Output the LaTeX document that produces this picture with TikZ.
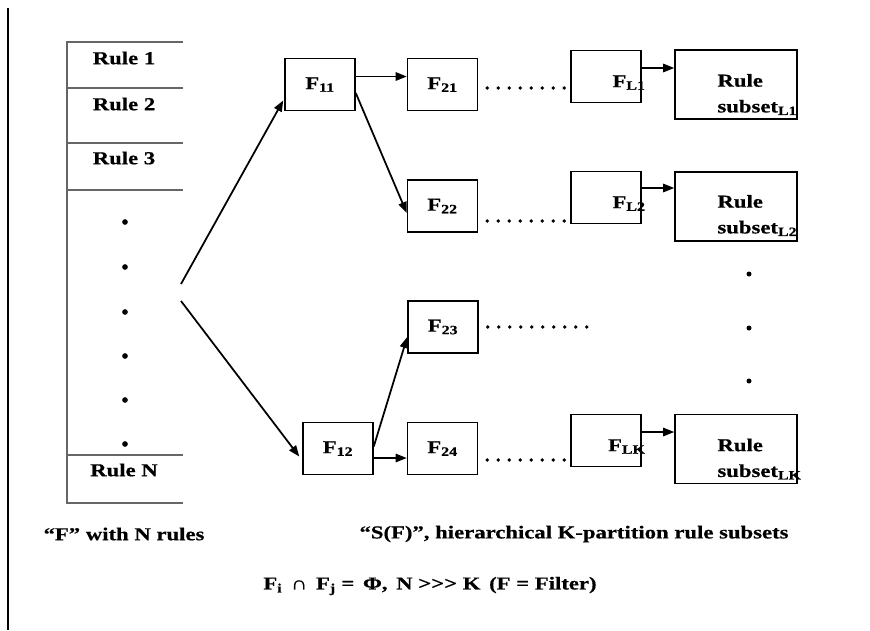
\documentclass[tikz,border=0pt]{standalone}
\usepackage{fontspec}
\newfontfamily\figfont{Liberation Serif}[FakeStretch=1.25, BoldFeatures={FakeBold=0.6}]
\usetikzlibrary{positioning, arrows.meta, calc}

\begin{document}
\begin{tikzpicture}[
    x=0.03cm, y=-0.03cm,
    every node/.style={font=\figfont\bfseries\fontsize{15.5}{22}\selectfont},
    filt/.style={rectangle, draw, line width=1.3pt, inner sep=0pt,
                 minimum width=2.1cm, minimum height=1.57cm},
    rsbox/.style={rectangle, draw, line width=1.3pt, inner sep=0pt,
                  minimum width=3.66cm, minimum height=2.07cm},
    lbl/.style={inner sep=0pt, align=left},
    arrow/.style={-{Triangle[length=0.33cm, width=0.25cm]}, line width=1.5pt},
    dotline/.style={line width=3.2pt, line cap=round, dash pattern=on 0pt off 0.33cm},
    listline/.style={gray!80!black, line width=1.3pt},
  ]
  \useasboundingbox (0,0) rectangle (870,630);

  % left bar
  \draw[line width=1.8pt] (8,8) -- (8,630);

  % rule list F
  \draw[listline] (183,42) -- (67,42) -- (67,503) -- (183,503);
  \foreach \y in {88,143,190,455}
    \draw[listline] (67,\y) -- (183,\y);
  \node[lbl] (r1) at (124,58) {Rule 1};
  \node[lbl] (r2) at (124,104) {Rule 2};
  \node[lbl] (r3) at (124,158) {Rule 3};
  \node[lbl] (rn) at (124,470) {Rule N};
  \foreach \y in {222,267,312,356,400,444}
    \fill (125,\y) circle[radius=0.085cm];

  % filters
  \node[filt] (f11) at (320,84.5) {F\textsubscript{11}};
  \node[filt] (f12) at (338,448.5) {F\textsubscript{12}};
  \node[filt] (f21) at (442.5,84.5) {F\textsubscript{21}};
  \node[filt] (f22) at (442.5,206) {F\textsubscript{22}};
  \node[filt] (f23) at (443,327) {F\textsubscript{23}};
  \node[filt] (f24) at (442.5,448.5) {F\textsubscript{24}};
  \node[filt] (fL1) at (606,76.5) {};
  \node[filt] (fL2) at (606,197.5) {};
  \node[filt] (fLK) at (606,440.5) {};
  \node[lbl, anchor=east] (tL1) at ($(fL1.east)+(4,6)$) {F\textsubscript{L1}};
  \node[lbl, anchor=east] (tL2) at ($(fL2.east)+(4,6)$) {F\textsubscript{L2}};
  \node[lbl, anchor=east] (tLK) at ($(fLK.east)+(4,6)$) {F\textsubscript{LK}};

  % rule subsets
  \node[rsbox] (rs1) at (736,84.5) {};
  \node[rsbox] (rs2) at (736,206.5) {};
  \node[rsbox] (rsk) at (736,449) {};
  \node[lbl, anchor=west] (s1) at ($(rs1.west)+(43,10)$) {Rule\\subset\textsubscript{L1}};
  \node[lbl, anchor=west] (s2) at ($(rs2.west)+(43,9)$) {Rule\\subset\textsubscript{L2}};
  \node[lbl, anchor=west] (sk) at ($(rsk.west)+(43,10)$) {Rule\\subset\textsubscript{LK}};
  \foreach \y in {274,328,381}
    \fill (749,\y) circle[radius=0.075cm];

  % connectors
  \coordinate (up) at (181,284);
  \coordinate (dn) at (181,301);
  \draw[arrow] (up) -- ($(f11.south west)+(-1,-11)$);
  \draw[arrow] (dn) -- ($(f12.west)+(-3,8)$);
  \draw[arrow] ($(f11.east)+(0,-8)$) -- ($(f21.west)+(0,-8)$);
  \draw[arrow] ($(f11.east)+(0,8.5)$) -- ($(f22.west)+(0,7)$);
  \draw[arrow] ($(f12.east)+(0,-2)$) -- ($(f23.west)+(0,10)$);
  \draw[arrow] ($(f12.east)+(0,9.5)$) -- ($(f24.west)+(0,9.5)$);
  \coordinate (t1) at ($(fL1.east)+(0,-8.5)$);
  \coordinate (t2) at ($(fL2.east)+(0,-9.5)$);
  \coordinate (tk) at ($(fLK.east)+(0,-8.5)$);
  \draw[arrow] (t1) -- (t1 -| rs1.west);
  \draw[arrow] (t2) -- (t2 -| rs2.west);
  \draw[arrow] (tk) -- (tk -| rsk.west);

  % dotted runs
  \draw[dotline] ($(f21.east)+(9,3.5)$) -- ($(fL1.west)+(0,11.5)$);
  \draw[dotline] ($(f22.east)+(9,15)$) -- ($(fL2.west)+(0,23.5)$);
  \coordinate (e23) at (596,327);
  \draw[dotline] ($(f23.east)+(9,0)$) -- (e23);
  \draw[dotline] ($(f24.east)+(9,11.5)$) -- ($(fLK.west)+(0,19.5)$);

  % captions
  \node (capf) at (124,534) {“F” with N rules};
  \node (capsf) at (574,534) {“S(F)”, hierarchical K-partition rule subsets};
  \node (eqn) at (430,586) {F\textsubscript{i} \,∩\, F\textsubscript{j} = \,Φ, \,N >>> K \,(F = Filter)};
\end{tikzpicture}
\end{document}
